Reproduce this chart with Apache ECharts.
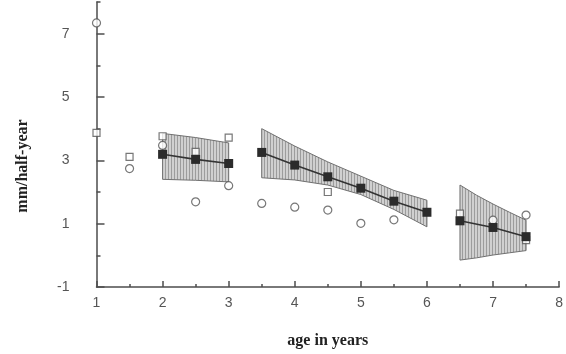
<!DOCTYPE html>
<html>
<head>
<meta charset="utf-8">
<script src="https://cdn.jsdelivr.net/npm/echarts@6/dist/echarts.min.js"></script>
<style>
  html, body { margin: 0; padding: 0; background: #fff; }
  #chart { width: 566px; height: 354px; }
</style>
</head>
<body>
<div id="chart"></div>
<script>
// confidence bands, one per age group
const bandX1 = [2, 2.5, 3];
const bandHi1 = [3.85, 3.72, 3.55];
const bandLo1 = [2.40, 2.37, 2.32];

const bandX2 = [3.5, 4, 4.5, 5, 5.5, 6];
const bandHi2 = [4.0, 3.45, 2.95, 2.5, 2.05, 1.74];
const bandLo2 = [2.45, 2.38, 2.22, 1.92, 1.45, 0.90];

const bandX3 = [6.5, 6.75, 7, 7.25, 7.5];
const bandHi3 = [2.22, 1.9, 1.62, 1.36, 1.11];
const bandLo3 = [-0.15, -0.08, 0.01, 0.08, 0.15];

// fitted means (filled squares)
const means1 = [[2, 3.19], [2.5, 3.03], [3, 2.90]];
const means2 = [[3.5, 3.25], [4, 2.85], [4.5, 2.48], [5, 2.12], [5.5, 1.71], [6, 1.36]];
const means3 = [[6.5, 1.09], [7, 0.88], [7.5, 0.59]];

// observed values
const openSquares = [[1, 3.87], [1.5, 3.11], [2, 3.76], [2.5, 3.27], [3, 3.72],
  [4.5, 2.0], [6.5, 1.32], [7.5, 0.48]];
const openCircles = [[1, 7.34], [1.5, 2.74], [2, 3.47], [2.5, 1.69], [3, 2.2],
  [3.5, 1.64], [4, 1.52], [4.5, 1.43], [5, 1.01], [5.5, 1.12], [7, 1.11], [7.5, 1.27]];

const yLabels = [-1, 1, 3, 5, 7];

const bands = [
  { x: bandX1, hi: bandHi1, lo: bandLo1 },
  { x: bandX2, hi: bandHi2, lo: bandLo2 },
  { x: bandX3, hi: bandHi3, lo: bandLo3 }
];

// vertical hatching used inside the bands
const hatch = document.createElement('canvas');
hatch.width = 3;
hatch.height = 4;
const hctx = hatch.getContext('2d');
hctx.fillStyle = '#d0d0d0';
hctx.fillRect(0, 0, 3, 4);
hctx.fillStyle = '#9c9c9c';
hctx.fillRect(0, 0, 1, 4);

const axisColor = '#4d4d4d';
const labelStyle = { color: '#555', fontFamily: 'Liberation Sans', fontSize: 14 };

const chart = echarts.init(document.getElementById('chart'), null, { renderer: 'canvas' });

function meanSeries(data) {
  return {
    type: 'line',
    data: data,
    symbol: 'rect',
    symbolSize: 9,
    lineStyle: { color: '#333', width: 1.6 },
    itemStyle: { color: '#2b2b2b' },
    z: 5,
    silent: true
  };
}

chart.setOption({
  animation: false,
  backgroundColor: '#fff',
  grid: { left: 96.5, right: 5, top: 2, bottom: 67 },
  xAxis: {
    type: 'value',
    min: 1,
    max: 8,
    interval: 1,
    name: 'age in years',
    nameLocation: 'middle',
    nameGap: 46,
    nameTextStyle: { color: '#222', fontFamily: 'Liberation Serif', fontSize: 16, fontWeight: 'bold' },
    axisLine: { onZero: false, lineStyle: { color: axisColor, width: 1.5 } },
    axisTick: { inside: true, length: 6, lineStyle: { color: axisColor, width: 1.5 } },
    minorTick: { show: true, splitNumber: 2, length: 3, lineStyle: { color: axisColor, width: 1.5 } },
    axisLabel: Object.assign({ margin: 9 }, labelStyle),
    splitLine: { show: false }
  },
  yAxis: [
    {
      type: 'value',
      position: 'left',
      min: -1,
      max: 8,
      interval: 1,
      axisLine: { onZero: false, lineStyle: { color: axisColor, width: 1.5 } },
      axisTick: { inside: true, length: 8, customValues: yLabels, lineStyle: { color: axisColor, width: 1.5 } },
      axisLabel: Object.assign({ margin: 27, customValues: yLabels }, labelStyle),
      splitLine: { show: false }
    },
    {
      type: 'value',
      position: 'left',
      min: -1,
      max: 8,
      interval: 1,
      axisLine: { show: false, onZero: false },
      axisTick: { inside: true, length: 4, lineStyle: { color: axisColor, width: 1.5 } },
      axisLabel: { show: false },
      splitLine: { show: false }
    }
  ],
  graphic: [{
    type: 'text',
    x: 23,
    y: 166,
    rotation: Math.PI / 2,
    style: {
      text: 'mm/half-year',
      align: 'center',
      verticalAlign: 'middle',
      fill: '#222',
      font: 'bold 16px "Liberation Serif"'
    }
  }],
  series: [
    {
      type: 'custom',
      coordinateSystem: 'cartesian2d',
      data: bands.map((b, i) => [b.x[0], b.lo[0], i]),
      renderItem: function (params, api) {
        const b = bands[params.dataIndex];
        const pts = [];
        b.x.forEach((x, k) => pts.push(api.coord([x, b.hi[k]])));
        for (let k = b.x.length - 1; k >= 0; k--) pts.push(api.coord([b.x[k], b.lo[k]]));
        return {
          type: 'polygon',
          shape: { points: pts },
          style: { fill: { image: hatch, repeat: 'repeat' }, stroke: '#707070', lineWidth: 1 }
        };
      },
      z: 1,
      silent: true
    },
    {
      type: 'scatter',
      data: openSquares,
      symbol: 'rect',
      symbolSize: 7,
      itemStyle: { color: '#fff', borderColor: '#555', borderWidth: 1.2 },
      z: 3,
      silent: true
    },
    {
      type: 'scatter',
      data: openCircles,
      symbol: 'circle',
      symbolSize: 8,
      itemStyle: { color: '#fff', borderColor: '#555', borderWidth: 1.2 },
      z: 3,
      silent: true
    },
    meanSeries(means1),
    meanSeries(means2),
    meanSeries(means3)
  ]
});

window.addEventListener('resize', () => chart.resize());
</script>
</body>
</html>
